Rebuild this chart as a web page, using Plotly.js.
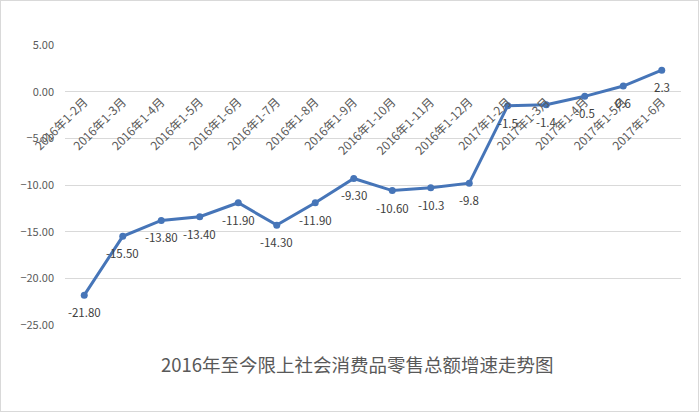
<!DOCTYPE html>
<html>
<head>
<meta charset="utf-8">
<script src="https://cdn.plot.ly/plotly-3.0.1.min.js"></script>
<style>
  html, body { margin: 0; padding: 0; background: #fff; }
  #chart { width: 697px; height: 410px; border: 1px solid #d9d9d9; }
</style>
</head>
<body>
<div id="chart"></div>
<script>
"use strict";

const months = [
  "2016年1-2月", "2016年1-3月", "2016年1-4月", "2016年1-5月",
  "2016年1-6月", "2016年1-7月", "2016年1-8月", "2016年1-9月",
  "2016年1-10月", "2016年1-11月", "2016年1-12月", "2017年1-2月",
  "2017年1-3月", "2017年1-4月", "2017年1-5月", "2017年1-6月",
];

const growth = [
  -21.8, -15.5, -13.8, -13.4, -11.9, -14.3, -11.9, -9.3,
  -10.6, -10.3, -9.8, -1.5, -1.4, -0.5, 0.6, 2.3,
];

// labels as shown on the chart (formatting differs between points)
const growthLabels = [
  "-21.80", "-15.50", "-13.80", "-13.40", "-11.90", "-14.30", "-11.90", "-9.30",
  "-10.60", "-10.3", "-9.8", "-1.5", "-1.4", "-0.5", "0.6", "2.3",
];

const yTicks = [5, 0, -5, -10, -15, -20, -25];

const lineColor = "#4675b8";
const gridColor = "#d9d9d9";
const textColor = "#595959";
const font = "Noto Sans CJK SC, sans-serif";

const data = [
  {
    x: months,
    y: growth,
    type: "scatter",
    mode: "lines+markers",
    line: { color: lineColor, width: 3 },
    marker: { color: lineColor, size: 7 },
    hoverinfo: "x+y",
  },
];

const annotations = months.map((m, i) => ({
  x: m,
  y: growth[i],
  xref: "x",
  yref: "y",
  text: growthLabels[i],
  showarrow: false,
  yshift: -17,
  font: { family: font, size: 11.5, color: "#404040" },
}));

const layout = {
  width: 697,
  height: 410,
  margin: { l: 64, r: 17, t: 44, b: 86 },
  paper_bgcolor: "#ffffff",
  plot_bgcolor: "#ffffff",
  showlegend: false,
  title: {
    text: "2016年至今限上社会消费品零售总额增速走势图",
    font: { family: font, size: 18.5, color: textColor },
    x: 0.511,
    xanchor: "center",
    y: 0.11,
    yanchor: "middle",
  },
  xaxis: {
    type: "category",
    range: [-0.5, months.length - 0.5],
    anchor: "free",
    position: 25 / 30,
    showgrid: false,
    zeroline: false,
    showline: false,
    ticks: "",
    tickangle: -45,
    tickfont: { family: font, size: 12, color: textColor },
    fixedrange: true,
  },
  yaxis: {
    range: [-25, 5],
    tickvals: yTicks,
    tickformat: ".2f",
    showgrid: true,
    gridcolor: gridColor,
    gridwidth: 1,
    zeroline: false,
    showline: false,
    ticks: "",
    ticklabelstandoff: 10,
    tickfont: { family: font, size: 11, color: textColor },
    fixedrange: true,
  },
  annotations,
};

Plotly.newPlot("chart", data, layout, { displayModeBar: false, staticPlot: true });
</script>
</body>
</html>
